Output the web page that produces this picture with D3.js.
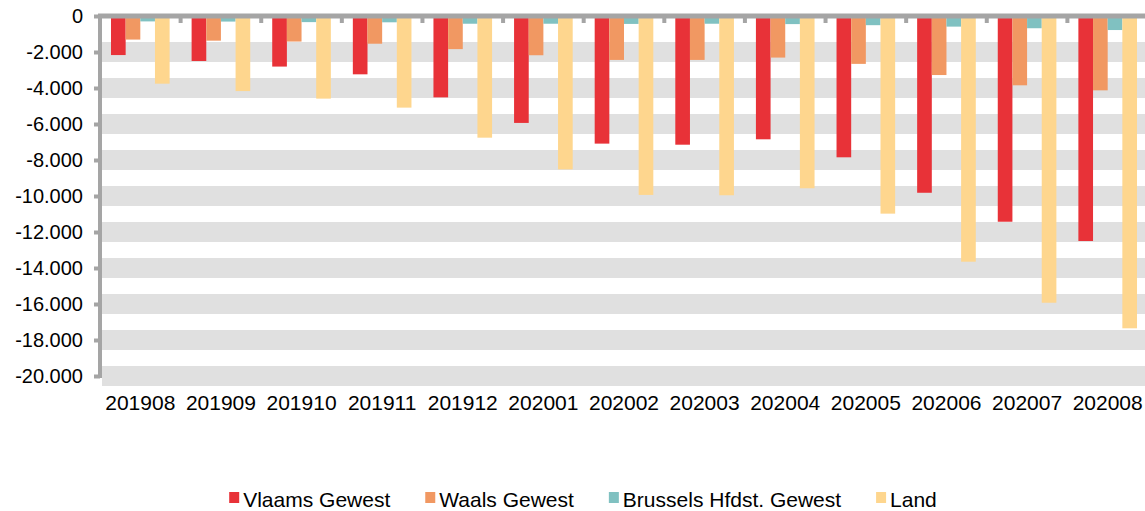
<!DOCTYPE html>
<html>
<head>
<meta charset="utf-8">
<script src="https://cdn.jsdelivr.net/npm/d3@7"></script>
<style>
  body { margin: 0; background: #fff; }
  svg { display: block; font-family: "Liberation Sans", Arial, sans-serif; }
</style>
</head>
<body>
<svg id="chart"></svg>
<script>
var months = ["201908", "201909", "201910", "201911", "201912", "202001", "202002",
              "202003", "202004", "202005", "202006", "202007", "202008"];
var vlaams = [-2170, -2500, -2810, -3240, -4520, -5940, -7090, -7150, -6850, -7850, -9820, -11430, -12500];
var waals = [-1310, -1370, -1420, -1540, -1840, -2180, -2440, -2440, -2310, -2660, -3280, -3850, -4130];
var brussel = [-300, -310, -340, -350, -430, -430, -440, -430, -450, -510, -590, -680, -780];
var land = [-3760, -4170, -4590, -5090, -6760, -8520, -9940, -9960, -9570, -10980, -13650, -15930, -17350];
var seriesNames = ["Vlaams Gewest", "Waals Gewest", "Brussels Hfdst. Gewest", "Land"];
var seriesColors = ["#e83238", "#f19862", "#80c1c1", "#fed68e"];
var yTicks = [0, -2000, -4000, -6000, -8000, -10000, -12000, -14000, -16000, -18000, -20000];

var width = 1145, height = 511;
var plotLeft = 100, plotRight = 1148, plotTop = 16, plotBottom = 376;
var axisColor = "#a5a5a5";

var svg = d3.select("#chart")
    .attr("width", width)
    .attr("height", height);

var allSeries = [vlaams, waals, brussel, land];

var x = d3.scaleBand()
    .domain(months)
    .range([plotLeft, plotRight])
    .padding(0);

var xInner = d3.scaleBand()
    .domain(d3.range(4))
    .range([0, x.bandwidth()])
    .paddingInner(0)
    .paddingOuter(0.75);

var y = d3.scaleLinear()
    .domain([-20000, 0])
    .range([plotBottom, plotTop]);

var fmt = function(d) {
    if (d === 0) return "0";
    return d3.format(",")(d).replace(/,/g, ".").replace("−", "-");
};

// thick grid bands
svg.append("g")
    .selectAll("rect")
    .data(yTicks.filter(function(d) { return d !== 0; }))
    .enter()
    .append("rect")
    .attr("x", plotLeft + 2)
    .attr("y", function(d) { return y(d) - 10; })
    .attr("width", width - plotLeft - 2)
    .attr("height", 20)
    .attr("fill", "#e0e0e0");

// bars
var groups = svg.append("g")
    .selectAll("g")
    .data(allSeries)
    .enter()
    .append("g")
    .attr("fill", function(d, i) { return seriesColors[i]; });

groups.each(function(vals, si) {
    d3.select(this).selectAll("rect")
        .data(vals)
        .enter()
        .append("rect")
        .attr("x", function(d, i) { return x(months[i]) + xInner(si); })
        .attr("y", y(0))
        .attr("width", xInner.bandwidth())
        .attr("height", function(d) { return y(d) - y(0); });
});

// y axis
var yAxis = d3.axisLeft(y)
    .tickValues(yTicks)
    .tickSize(6)
    .tickPadding(11)
    .tickFormat(fmt);

var gy = svg.append("g")
    .attr("transform", "translate(" + plotLeft + ",0)")
    .call(yAxis);
gy.select(".domain")
    .attr("d", "M0," + (plotTop - 2) + "V" + (plotBottom + 2))
    .attr("stroke", axisColor)
    .attr("stroke-width", 4);
gy.selectAll(".tick line")
    .attr("stroke", axisColor)
    .attr("stroke-width", 4);
gy.selectAll(".tick text")
    .attr("font-size", 20)
    .attr("fill", "#000")
    .attr("font-family", "Liberation Sans, Arial, sans-serif");

// x axis line at zero with ticks at category edges
svg.append("line")
    .attr("x1", plotLeft - 2)
    .attr("x2", width)
    .attr("y1", y(0))
    .attr("y2", y(0))
    .attr("stroke", axisColor)
    .attr("stroke-width", 5);

svg.append("g")
    .selectAll("line")
    .data(months.slice(1))
    .enter()
    .append("line")
    .attr("x1", function(d) { return x(d); })
    .attr("x2", function(d) { return x(d); })
    .attr("y1", y(0))
    .attr("y2", y(0) + 7)
    .attr("stroke", axisColor)
    .attr("stroke-width", 4);

// category labels
svg.append("g")
    .selectAll("text")
    .data(months)
    .enter()
    .append("text")
    .attr("x", function(d) { return x(d) + x.bandwidth() / 2; })
    .attr("y", 410)
    .attr("text-anchor", "middle")
    .attr("font-size", 21)
    .attr("fill", "#000")
    .text(function(d) { return d; });

// legend
var legend = svg.append("g").attr("transform", "translate(0,507)");
var items = legend.selectAll("g")
    .data(seriesNames)
    .enter()
    .append("g");
items.append("rect")
    .attr("y", -15)
    .attr("width", 10)
    .attr("height", 11)
    .attr("fill", function(d, i) { return seriesColors[i]; });
items.append("text")
    .attr("x", 14)
    .attr("font-size", 21)
    .attr("fill", "#000")
    .text(function(d) { return d; });

var gap = 35;
var offsets = [], cur = 0;
items.each(function() {
    offsets.push(cur);
    cur += 14 + d3.select(this).select("text").node().getComputedTextLength() + gap;
});
var total = cur - gap;
var start = 583 - total / 2;
items.attr("transform", function(d, i) { return "translate(" + (start + offsets[i]) + ",0)"; });
</script>
</body>
</html>
